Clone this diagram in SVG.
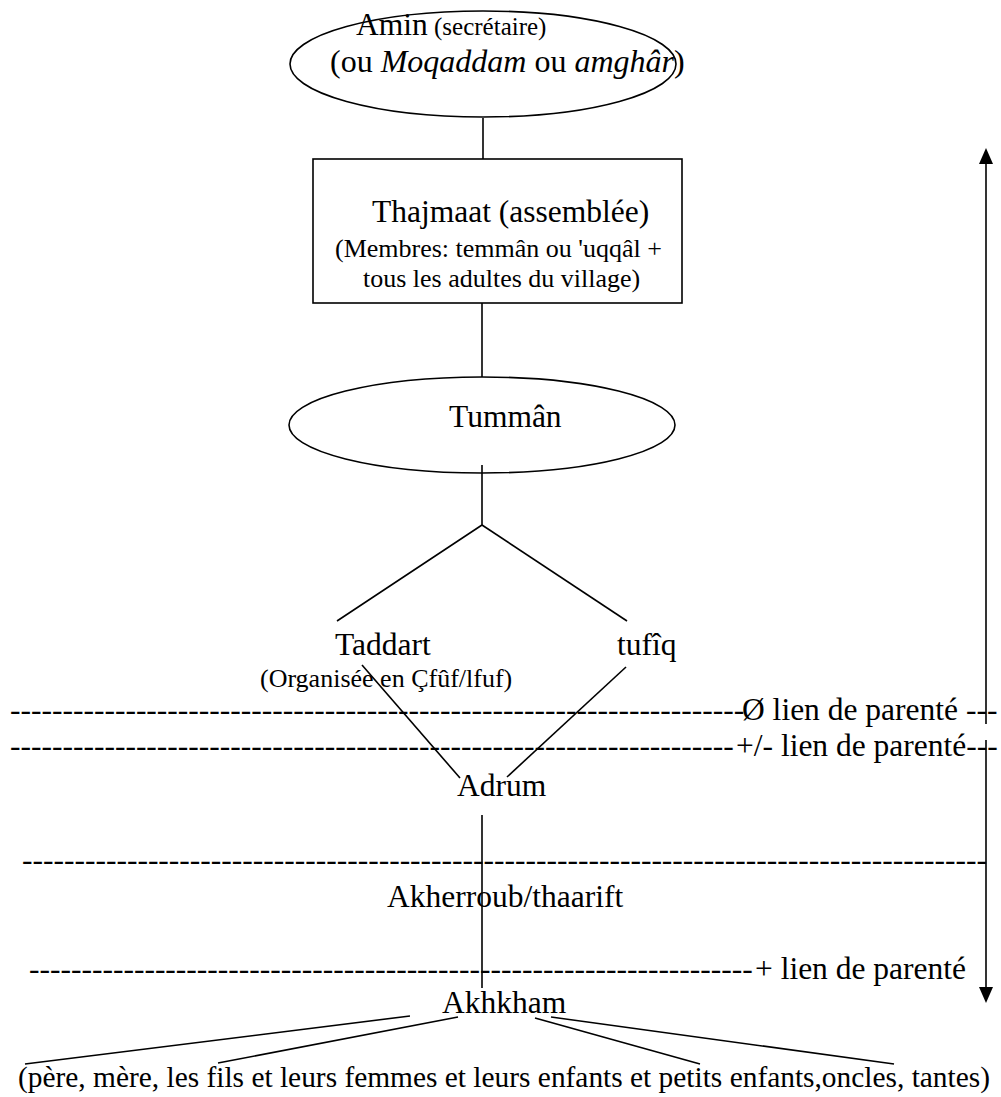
<svg xmlns="http://www.w3.org/2000/svg" width="1001" height="1097" viewBox="0 0 1001 1097">
<style>
text{font-family:"Liberation Serif","Times New Roman",serif;fill:#000;font-size:31.5px}
.sm{font-size:26px}
.shape{fill:none;stroke:#000;stroke-width:1.6}
.ln{stroke:#000;stroke-width:1.6;fill:none}
</style>
<defs>
<marker id="ah" viewBox="0 0 16 14" refX="0" refY="7" markerWidth="16" markerHeight="14" markerUnits="userSpaceOnUse" orient="auto-start-reverse"><path d="M0,0 L16,7 L0,14 z" fill="#000"/></marker>
</defs>
<rect width="1001" height="1097" fill="#fff"/>
<g id="connectors">
<line class="ln" x1="483" y1="118" x2="483" y2="159"/>
<line class="ln" x1="482" y1="303" x2="482" y2="377"/>
<polyline class="ln" points="482,465 482,525 337,621"/>
<line class="ln" x1="482" y1="525" x2="627" y2="621"/>
<line class="ln" x1="362" y1="665" x2="460" y2="778"/>
<line class="ln" x1="626" y1="667" x2="507" y2="777"/>
<line class="ln" x1="482" y1="815" x2="482" y2="988"/>
<line class="ln" x1="410" y1="1016" x2="25" y2="1064"/>
<line class="ln" x1="458" y1="1017" x2="218" y2="1063"/>
<line class="ln" x1="535" y1="1018" x2="700" y2="1064"/>
<line class="ln" x1="551" y1="1017" x2="894" y2="1064"/>
<line class="ln" x1="986" y1="164" x2="986" y2="724" marker-start="url(#ah)"/>
<line class="ln" x1="986" y1="740" x2="986" y2="987" marker-end="url(#ah)"/>
</g>
<g id="amin">
<ellipse class="shape" cx="483" cy="64" rx="193" ry="53"/>
<text x="356" y="35">Amin<tspan style="font-size:25px"> (secrétaire)</tspan></text>
<text x="330" y="72" style="font-size:32px">(ou <tspan font-style="italic">Moqaddam</tspan> ou <tspan font-style="italic">amghâr</tspan>)</text>
</g>
<g id="thajmaat">
<rect class="shape" x="313" y="159" width="369" height="144"/>
<text x="372" y="222">Thajmaat (assemblée)</text>
<text class="sm" x="335" y="257">(Membres: temmân ou 'uqqâl +</text>
<text class="sm" x="363" y="287">tous les adultes du village)</text>
</g>
<g id="tumman">
<ellipse class="shape" cx="482" cy="425" rx="193" ry="48"/>
<text x="449" y="427">Tummân</text>
</g>
<g id="taddart">
<text x="335" y="655">Taddart</text>
<text class="sm" x="260" y="687">(Organisée en Çfûf/lfuf)</text>
</g>
<g id="tufiq">
<text x="617" y="655">tufîq</text>
</g>
<g id="levels">
<text x="10" y="720">----------------------------------------------------------------------<tspan x="742">Ø lien de parenté ---</tspan></text>
<text x="10" y="756">---------------------------------------------------------------------<tspan x="736">+/- lien de parenté---</tspan></text>
<text x="22" y="870">--------------------------------------------------------------------------------------------</text>
<text x="29" y="979">---------------------------------------------------------------------<tspan x="755">+ lien de parenté</tspan></text>
</g>
<g id="adrum">
<text x="457" y="796">Adrum</text>
</g>
<g id="akherroub">
<text x="387" y="907">Akherroub/thaarift</text>
</g>
<g id="akhkham">
<text x="442" y="1013">Akhkham</text>
</g>
<g id="famille">
<text x="18" y="1087" style="font-size:29.4px">(père, mère, les fils et leurs femmes et leurs enfants et petits enfants,oncles, tantes)</text>
</g>
</svg>
